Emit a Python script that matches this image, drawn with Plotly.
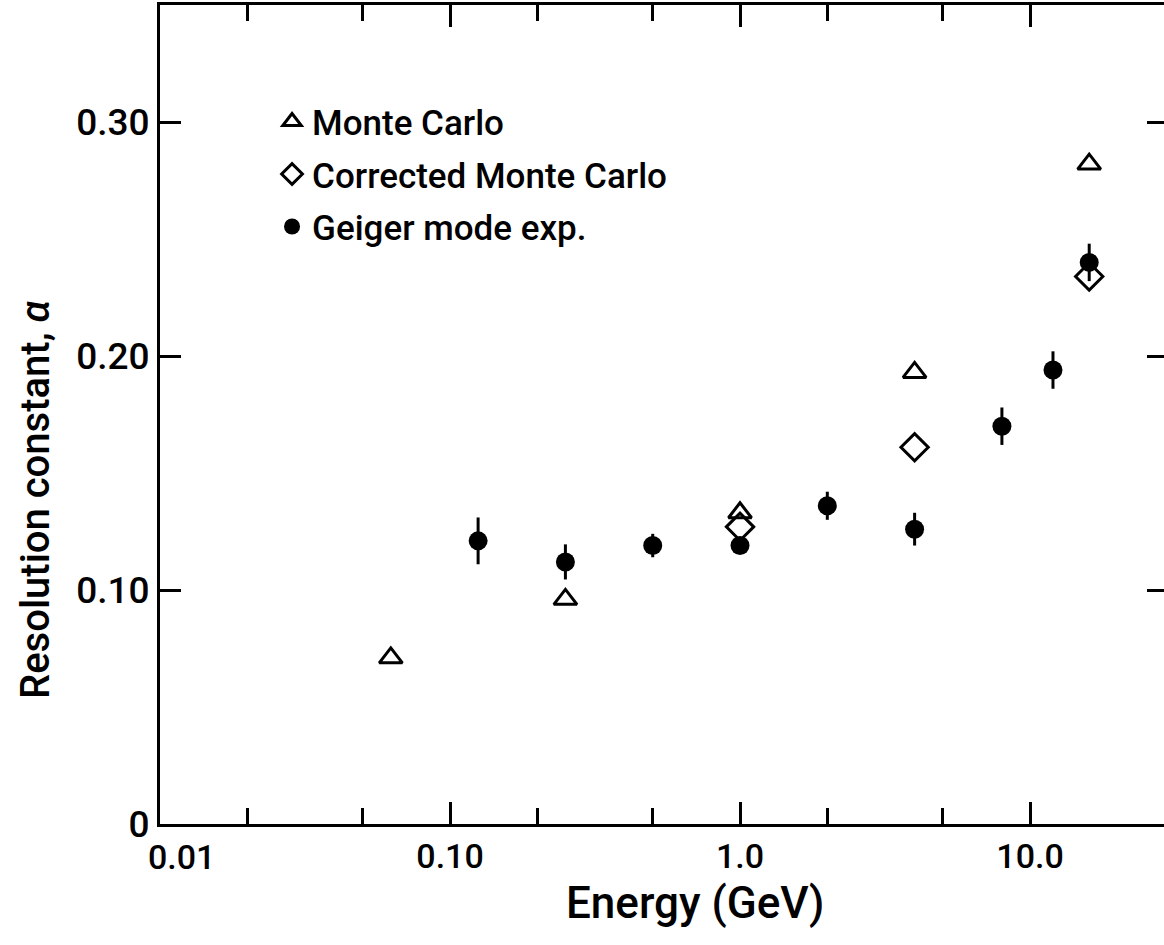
import math
import plotly.graph_objects as go

# ---- data ----
mc_energy = [0.0625, 0.25, 1.0, 4.0, 16.0]
mc_alpha = [0.071, 0.096, 0.133, 0.193, 0.282]

cmc_energy = [1.0, 4.0, 16.0]
cmc_alpha = [0.127, 0.161, 0.234]

geiger_energy = [0.125, 0.25, 0.5, 1.0, 2.0, 4.0, 8.0, 12.0, 16.0]
geiger_alpha = [0.121, 0.112, 0.119, 0.119, 0.136, 0.126, 0.170, 0.194, 0.240]
geiger_err = [0.010, 0.0075, 0.005, 0.0, 0.006, 0.007, 0.008, 0.008, 0.008]

x_major = [0.01, 0.1, 1.0, 10.0]
x_major_text = ["0.01", "0.10", "1.0", "10.0"]
x_minor = [0.02, 0.05, 0.2, 0.5, 2.0, 5.0]
y_ticks = [0.0, 0.1, 0.2, 0.3]
y_text = ["0", "0.10", "0.20", "0.30"]
y_right_ticks = [0.1, 0.2, 0.3]

FONT = "Roboto"
W = 500

fig = go.Figure()

fig.add_trace(go.Scatter(
    x=mc_energy, y=mc_alpha, mode="markers", name="Monte Carlo",
    legendgroup="a",
    marker=dict(symbol="triangle-up-open", size=20, color="black",
                line=dict(width=3, color="black")),
))
fig.add_trace(go.Scatter(
    x=cmc_energy, y=cmc_alpha, mode="markers", name="Corrected Monte Carlo",
    legendgroup="b",
    marker=dict(symbol="diamond-open", size=21, color="black",
                line=dict(width=3, color="black")),
))
fig.add_trace(go.Scatter(
    x=geiger_energy, y=geiger_alpha, mode="markers", name="Geiger mode exp.",
    legendgroup="c",
    marker=dict(symbol="circle", size=19, color="black"),
    error_y=dict(type="data", array=geiger_err, visible=True,
                 thickness=3, width=0, color="black"),
))
# invisible trace to carry the right-hand tick axis
fig.add_trace(go.Scatter(
    x=geiger_energy, y=geiger_alpha, mode="markers", yaxis="y2",
    marker=dict(opacity=0), showlegend=False, hoverinfo="skip",
))

# first x tick label is drawn shifted right (as in the reference) to clear the "0"
x_ticktext_axis = [""] + x_major_text[1:]

fig.update_layout(
    width=1164, height=945,
    margin=dict(l=160, r=0, t=5, b=121),
    paper_bgcolor="white", plot_bgcolor="white",
    font=dict(family=FONT, color="black", weight=W),
    showlegend=True,
    legend=dict(
        x=0.1116, y=0.8935, xanchor="left", yanchor="top",
        font=dict(family=FONT, size=35, color="black", weight=W),
        bgcolor="rgba(0,0,0,0)", itemsizing="trace", tracegroupgap=4,
    ),
    xaxis=dict(
        type="log", range=[-2, 1.462],
        showline=True, linewidth=3, linecolor="black", mirror="ticks",
        ticks="inside", ticklen=22, tickwidth=2.5, tickcolor="black",
        tickmode="array", tickvals=x_major, ticktext=x_ticktext_axis,
        tickfont=dict(family=FONT, size=34, color="black", weight=W),
        showgrid=False, zeroline=False,
        minor=dict(ticks="inside", ticklen=16, tickwidth=2.5, tickcolor="black",
                   tickmode="array", tickvals=x_minor, showgrid=False),
    ),
    yaxis=dict(
        range=[0, 0.35],
        showline=True, linewidth=3, linecolor="black",
        ticks="inside", ticklen=21, tickwidth=2.5, tickcolor="black",
        tickmode="array", tickvals=y_ticks, ticktext=y_text,
        tickfont=dict(family=FONT, size=37, color="black", weight=W),
        showgrid=False, zeroline=False,
    ),
    yaxis2=dict(
        range=[0, 0.35], overlaying="y", side="right",
        showline=False, ticks="inside", ticklen=17, tickwidth=2.5,
        tickcolor="black", tickmode="array", tickvals=y_right_ticks,
        showticklabels=False, showgrid=False, zeroline=False,
    ),
    annotations=[
        dict(text=x_major_text[0], xref="x", yref="paper",
             x=math.log10(x_major[0]), y=-0.0405, xanchor="left", yanchor="middle",
             xshift=-14, showarrow=False,
             font=dict(family=FONT, size=34, color="black", weight=W)),
        dict(text="Energy (GeV)", xref="paper", yref="paper",
             x=0.533, y=-0.096, xanchor="center", yanchor="middle",
             showarrow=False, font=dict(family=FONT, size=44, color="black", weight=W)),
        dict(text="Resolution constant, <i>α</i>", xref="paper", yref="paper",
             x=-0.1245, y=0.3956, xanchor="center", yanchor="middle",
             textangle=-90, showarrow=False,
             font=dict(family=FONT, size=40, color="black", weight=W)),
    ],
)

fig.write_html("out.html")
